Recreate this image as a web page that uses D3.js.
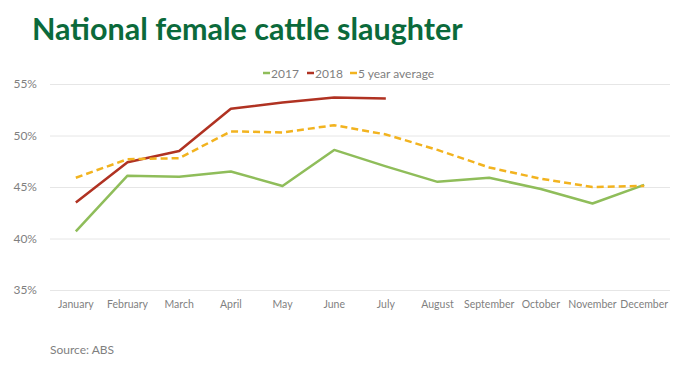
<!DOCTYPE html>
<html>
<head>
<meta charset="utf-8">
<script src="https://cdn.jsdelivr.net/npm/d3@7"></script>
<style>
  body { margin: 0; background: #fff; }
  #chart { width: 700px; height: 373px; }
</style>
</head>
<body>
<div id="chart"></div>
<script>
// chart data
var months = ["January","February","March","April","May","June","July","August","September","October","November","December"];
var y2017 = [40.7, 46.1, 46.0, 46.5, 45.1, 48.6, 47.0, 45.5, 45.9, 44.8, 43.4, 45.2];
var y2018 = [43.5, 47.4, 48.5, 52.6, 53.2, 53.7, 53.6];
var avg5 = [45.9, 47.7, 47.8, 50.4, 50.3, 51.0, 50.1, 48.6, 46.9, 45.8, 45.0, 45.1];
var yTicks = [35, 40, 45, 50, 55];

var series = [
  {name: "2017", values: y2017, color: "#8fbd5a", dash: null},
  {name: "2018", values: y2018, color: "#b03222", dash: null},
  {name: "5 year average", values: avg5, color: "#f2b31f", dash: "7,4"}
];

var labelFont = "Lato, 'Open Sans', sans-serif";

// dimensions
var margin = {top: 84, right: 30, bottom: 83, left: 50},
    width = 700 - margin.left - margin.right,
    height = 373 - margin.top - margin.bottom;

var svg = d3.select("#chart")
  .append("svg")
    .attr("width", 700)
    .attr("height", 373);

// title
svg.append("text")
  .attr("x", 32)
  .attr("y", 40)
  .style("font-family", labelFont)
  .style("font-weight", "bold")
  .style("font-size", "30.5px")
  .style("fill", "#0b6a3b")
  .text("National female cattle slaughter");

var g = svg.append("g")
  .attr("transform", "translate(" + margin.left + "," + margin.top + ")");

// scales
var x = d3.scaleBand().domain(months).range([0, width]);
var y = d3.scaleLinear().domain([35, 55]).range([height, 0]);

// gridlines + y axis
var yAxis = g.append("g")
  .call(d3.axisLeft(y).tickValues(yTicks).tickSize(-width).tickPadding(13)
    .tickFormat(function(d) { return d + "%"; }));
yAxis.select(".domain").remove();
yAxis.selectAll(".tick line").attr("stroke", "#e6e6e6");
yAxis.selectAll(".tick text")
  .style("font-family", labelFont)
  .style("font-size", "12px")
  .style("fill", "#7f7f7f");

// x axis
var xAxis = g.append("g")
  .attr("transform", "translate(0," + height + ")")
  .call(d3.axisBottom(x).tickSize(0).tickPadding(10.5));
xAxis.select(".domain").remove();
xAxis.selectAll(".tick text")
  .style("font-family", labelFont)
  .style("font-size", "10.5px")
  .style("fill", "#7f7f7f");

// lines
var line = d3.line()
  .x(function(d, i) { return x(months[i]) + x.bandwidth() / 2; })
  .y(function(d) { return y(d); });

series.forEach(function(s) {
  g.append("path")
    .datum(s.values)
    .attr("fill", "none")
    .attr("stroke", s.color)
    .attr("stroke-width", 2.5)
    .attr("stroke-dasharray", s.dash)
    .attr("stroke-linejoin", "round")
    .attr("d", line);
});

// legend
var legendPos = [263, 307, 350];
var legend = svg.append("g");
series.forEach(function(s, i) {
  var lg = legend.append("g").attr("transform", "translate(" + legendPos[i] + ",73)");
  lg.append("line")
    .attr("x1", 0).attr("x2", 7)
    .attr("y1", 0).attr("y2", 0)
    .attr("stroke", s.color)
    .attr("stroke-width", 2.5);
  lg.append("text")
    .attr("x", 8)
    .attr("y", 4.5)
    .style("font-family", labelFont)
    .style("font-size", "12px")
    .style("fill", "#7f7f7f")
    .text(s.name);
});

// source
svg.append("text")
  .attr("x", 50)
  .attr("y", 354)
  .style("font-family", labelFont)
  .style("font-size", "12px")
  .style("fill", "#7f7f7f")
  .text("Source: ABS");
</script>
</body>
</html>
